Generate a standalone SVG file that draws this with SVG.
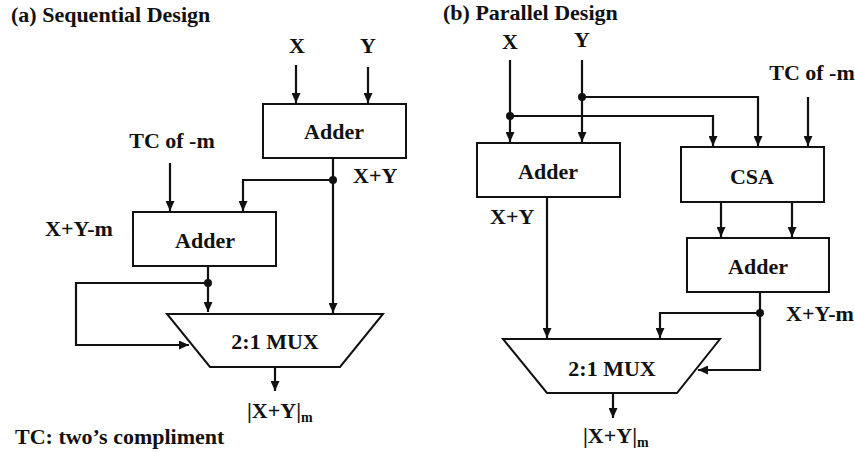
<svg xmlns="http://www.w3.org/2000/svg" width="855" height="452" viewBox="0 0 855 452">
<style>
text{font-family:"Liberation Serif","Times New Roman",serif;font-weight:bold;fill:#111;font-size:22px}
.t{text-anchor:middle}
.box{fill:#fff;stroke:#111;stroke-width:2}
.w{fill:none;stroke:#111;stroke-width:2.2}
.a{marker-end:url(#ah)}
.dot{fill:#111}
</style>
<defs>
<marker id="ah" markerWidth="10" markerHeight="9" refX="10" refY="4.5" orient="auto" markerUnits="userSpaceOnUse"><path d="M0,0 L10,4.5 L0,9 z" fill="#111"/></marker>
</defs>
<rect width="855" height="452" fill="#fff"/>
<text x="11" y="22" font-size="22.7">(a) Sequential Design</text>
<text x="443" y="19.5" font-size="22.7">(b) Parallel Design</text>
<text x="15" y="444">TC: two’s compliment</text>

<g id="a-inputs">
<text class="t" x="297" y="53">X</text>
<text class="t" x="368" y="53">Y</text>
<text class="t" x="172" y="148">TC of -m</text>
</g>
<g id="a-adder1">
<rect class="box" x="263" y="104" width="143" height="54"/>
<text class="t" x="334" y="139">Adder</text>
</g>
<g id="a-adder2">
<rect class="box" x="133" y="212" width="143" height="54"/>
<text class="t" x="205" y="248">Adder</text>
</g>
<g id="a-mux">
<polygon class="box" points="167,314 383,314 340,367 210,367"/>
<text class="t" x="275" y="349">2:1 MUX</text>
</g>
<g id="a-labels">
<text x="353" y="183">X+Y</text>
<text x="45" y="236">X+Y-m</text>
<text x="247" y="418">|X+Y|<tspan font-size="14" dy="4">m</tspan></text>
</g>
<g id="a-connectors">
<line class="w a" x1="296" y1="65" x2="296" y2="103"/>
<line class="w a" x1="368" y1="67" x2="368" y2="103"/>
<line class="w a" x1="333" y1="158" x2="333" y2="313"/>
<path class="w a" d="M333,180 H243 V211"/>
<line class="w a" x1="170" y1="163" x2="170" y2="211"/>
<line class="w a" x1="208" y1="266" x2="208" y2="312"/>
<path class="w a" d="M208,283 H76 V345 H189"/>
<line class="w a" x1="275" y1="367" x2="275" y2="391"/>
<circle class="dot" cx="333" cy="180" r="4"/>
<circle class="dot" cx="208" cy="283" r="4"/>
</g>

<g id="b-inputs">
<text class="t" x="510" y="49">X</text>
<text class="t" x="582" y="47">Y</text>
<text class="t" x="812" y="80">TC of -m</text>
</g>
<g id="b-adder1">
<rect class="box" x="477" y="143" width="143" height="54"/>
<text class="t" x="548" y="179">Adder</text>
</g>
<g id="b-csa">
<rect class="box" x="681" y="147" width="143" height="55"/>
<text class="t" x="752" y="184">CSA</text>
</g>
<g id="b-adder2">
<rect class="box" x="687" y="238" width="142" height="54"/>
<text class="t" x="758" y="274">Adder</text>
</g>
<g id="b-mux">
<polygon class="box" points="503,339 720,339 677,393 547,393"/>
<text class="t" x="612" y="376">2:1 MUX</text>
</g>
<g id="b-labels">
<text x="490" y="224">X+Y</text>
<text x="786" y="321">X+Y-m</text>
<text x="583" y="443">|X+Y|<tspan font-size="14" dy="4">m</tspan></text>
</g>
<g id="b-connectors">
<line class="w a" x1="510" y1="60" x2="510" y2="142"/>
<path class="w a" d="M510,116 H713 V146"/>
<line class="w a" x1="582" y1="60" x2="582" y2="142"/>
<path class="w a" d="M582,97 H758 V146"/>
<line class="w a" x1="808" y1="97" x2="808" y2="146"/>
<line class="w a" x1="547" y1="197" x2="547" y2="338"/>
<line class="w a" x1="721" y1="202" x2="721" y2="237"/>
<line class="w a" x1="792" y1="202" x2="792" y2="237"/>
<path class="w a" d="M760,292 V370 H698"/>
<path class="w a" d="M760,313 H660 V338"/>
<line class="w a" x1="613" y1="393" x2="613" y2="418"/>
<circle class="dot" cx="510" cy="116" r="4"/>
<circle class="dot" cx="582" cy="97" r="4"/>
<circle class="dot" cx="760" cy="313" r="4"/>
</g>
</svg>
